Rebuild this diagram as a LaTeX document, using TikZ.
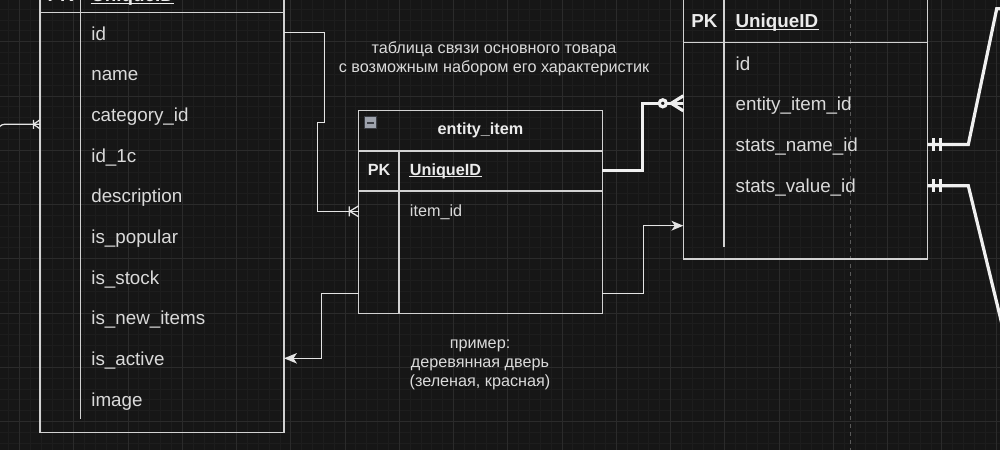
\documentclass[tikz,border=0pt]{standalone}
\usepackage{fontspec}
\setmainfont{Liberation Sans}
\usetikzlibrary{calc}

\definecolor{bgcol}{HTML}{161616}
\definecolor{gridminor}{HTML}{1D1D1D}
\definecolor{gridmajor}{HTML}{2B2B2B}
\definecolor{framecol}{HTML}{D2D2D2}
\definecolor{txtcol}{HTML}{DADADA}
\definecolor{keycol}{HTML}{EBEBEB}
\definecolor{linkcol}{HTML}{E4E4E4}
\definecolor{thickcol}{HTML}{F0F0F0}
\definecolor{pagebreak}{HTML}{5A5A5A}
\definecolor{iconfill}{HTML}{9EA3AD}
\definecolor{iconline}{HTML}{3A3D44}

\tikzset{every picture/.style={line width=0.95pt},
  minorgrid/.style={draw=gridminor, line width=0.75pt},
  majorgrid/.style={draw=gridmajor, line width=0.75pt},
  tblframe/.style={draw=framecol, anchor=north west, inner sep=0pt, outer sep=0pt},
  tblline/.style={draw=framecol},
  rowtxt/.style={anchor=base west, inner sep=0pt, text=txtcol, font=\fontsize{14.1}{16}\selectfont},
  rowkey/.style={rowtxt, text=keycol, font=\bfseries\fontsize{14.1}{16}\selectfont},
  enttxt/.style={anchor=base west, inner sep=0pt, text=txtcol, font=\fontsize{12.15}{14}\selectfont},
  entkey/.style={enttxt, text=keycol, font=\bfseries\fontsize{12.15}{14}\selectfont},
  keyline/.style={draw=keycol, line width=0.9pt},
  notetxt/.style={align=center, inner sep=0pt, text=txtcol, font=\fontsize{12.15}{14.2}\selectfont},
  thinlink/.style={draw=linkcol},
  thicklink/.style={draw=thickcol, line width=2.4pt},
}

\begin{document}
\begin{tikzpicture}[x=0.75pt,y=0.75pt,yscale=-1,xscale=1]
\useasboundingbox (0,0) rectangle (1000,450);
\clip (0,0) rectangle (1000,450);

%Background and grid
\fill[bgcol] (0,0) rectangle (1000,450);
\foreach \k in {-1,...,93} \draw[minorgrid] ({8.75+10.85*\k},0) -- ({8.75+10.85*\k},450);
\foreach \k in {-1,...,42} \draw[minorgrid] (0,{9.25+10.85*\k}) -- (1000,{9.25+10.85*\k});
\foreach \k in {0,...,18} \draw[majorgrid] ({19.6+54.25*\k},0) -- ({19.6+54.25*\k},450);
\foreach \k in {-1,...,8} \draw[majorgrid] (0,{41.8+54.25*\k}) -- (1000,{41.8+54.25*\k});
%Straight Lines [page break]
\draw[pagebreak, dash pattern=on 3pt off 3pt, line width=0.75pt] (850,0) -- (850,450);

%Shape: Table [item]
\node[tblframe, minimum width=183pt, minimum height=384.2pt] (itemtbl) at (40,-80) {};
\draw[tblline] (itemtbl.west |- 0,12.7) -- (itemtbl.east |- 0,12.7);
\draw[tblline] (80.7,-80) -- (80.7,419);
% Text Node
\node[rowkey] (itempk) at (47,1.5) {PK};
\node[rowkey] (itemuid) at (90.7,1.5) {UniqueID};
\draw[keyline] ($(itemuid.base west)+(0,2)$) -- ($(itemuid.base east)+(0,2)$);
\node[rowtxt] (pid) at (90.7,40) {id};
\node[rowtxt] (pname) at (90.7,80.7) {name};
\node[rowtxt] (pcat) at (90.7,121.3) {category\_id};
\node[rowtxt] (p1c) at (90.7,162) {id\_1c};
\node[rowtxt] (pdesc) at (90.7,202.7) {description};
\node[rowtxt] (ppop) at (90.7,243.4) {is\_popular};
\node[rowtxt] (pstock) at (90.7,284) {is\_stock};
\node[rowtxt] (pnew) at (90.7,324.7) {is\_new\_items};
\node[rowtxt] (pactive) at (90.7,365.4) {is\_active};
\node[rowtxt] (pimage) at (90.7,406) {image};

%Shape: Table [stats]
\node[tblframe, minimum width=183pt, minimum height=239.25pt] (statstbl) at (683.3,-60) {};
\draw[tblline] (statstbl.west |- 0,42.7) -- (statstbl.east |- 0,42.7);
\draw[tblline] (724,-60) -- (724,246.7);
% Text Node
\node[rowkey] (statspk) at (690.7,27.4) {PK};
\node[rowkey] (statsuid) at (735,27.4) {UniqueID};
\draw[keyline] ($(statsuid.base west)+(0,2)$) -- ($(statsuid.base east)+(0,2)$);
\node[rowtxt] (sid) at (735,70) {id};
\node[rowtxt] (seid) at (735,110.7) {entity\_item\_id};
\node[rowtxt] (ssn) at (735,151.4) {stats\_name\_id};
\node[rowtxt] (ssv) at (735,192.1) {stats\_value\_id};

%Shape: Table [entity_item]
\node[tblframe, minimum width=182.7pt, minimum height=152.25pt] (entitytbl) at (358.7,110.7) {};
\draw[tblline] (entitytbl.west |- 0,151) -- (entitytbl.east |- 0,151);
\draw[tblline] (entitytbl.west |- 0,191) -- (entitytbl.east |- 0,191);
\draw[tblline] (399,151) -- (399,313.7);
%Shape: Collapse icon
\draw[iconline, fill=iconfill, line width=0.6pt] (364.3,116.7) rectangle (376.7,128.3);
\draw[iconline, line width=1.5pt] (366.8,122.5) -- (374.2,122.5);
% Text Node
\node[entkey, anchor=base] (enttitle) at (480.5,134.2) {entity\_item};
\node[entkey] (entpk) at (367.3,175) {PK};
\node[entkey] (entuid) at (409.3,175) {UniqueID};
\draw[keyline] ($(entuid.base west)+(0,1.8)$) -- ($(entuid.base east)+(0,1.8)$);
\node[enttxt] (eiid) at (409.3,216) {item\_id};

% Text Node
\node[notetxt] (linknote) at (494,58.8) {таблица связи основного товара\\с возможным набором его характеристик};
% Text Node
\node[notetxt] (examplenote) at (480,364.6) {пример:\\деревянная дверь\\(зеленая, красная)};

%Straight Lines [item id -> entity item_id]
\draw[thinlink] (itemtbl.east |- 0,32.7) -- (324.3,32.7) -- (324.3,122.7) -- (317.3,122.7) -- (317.3,211.3) -- (entitytbl.west |- 0,211.3);
\draw[thinlink, shift={(358.7,211.3)}] (-9.5,-5) -- (-9.5,5) (-9,0) -- (0,-5.5) (-9,0) -- (0,5.5);
%Straight Lines [into category_id]
\draw[thinlink, rounded corners=5] (-2,170) |- (itemtbl.west |- 0,124.3);
\draw[thinlink, shift={(40,124.3)}] (-6.5,-4.5) -- (-6.5,4.5) (-6.5,0) -- (0,-4.5) (-6.5,0) -- (0,4.5);
%Straight Lines [entity -> is_active]
\draw[thinlink, shorten >=6pt] (entitytbl.west |- 0,293.3) -- (321.3,293.3) -- (321.3,358.3) -- (itemtbl.east |- 0,358.3);
\fill[linkcol, shift={(284,358.3)}, rotate=180] (0,0) -- (-13,-5.3) -- (-9.5,0) -- (-13,5.3) -- cycle;
%Straight Lines [entity -> stats]
\draw[thinlink, shorten >=6pt] (entitytbl.east |- 0,293.3) -- (643.3,293.3) -- (643.3,225.7) -- (statstbl.west |- 0,225.7);
\fill[linkcol, shift={(683.3,225.7)}] (0,0) -- (-12,-5) -- (-8.5,0) -- (-12,5) -- cycle;
%Straight Lines [UniqueID -> entity_item_id]
\draw[thicklink] (entitytbl.east |- 0,170.7) -- (642.7,170.7) -- (642.7,103.3) -- (statstbl.west |- 0,103.3);
\draw[thicklink, shift={(683.3,103.3)}] (-12,0) -- (0,-7.5) (-12,0) -- (0,7.5);
\draw[thicklink, fill=bgcol, shift={(683.3,103.3)}] (-20.5,0) circle[radius=3.5];
%Straight Lines [stats_name_id, stats_value_id]
\draw[thicklink] (statstbl.east |- 0,144.5) -- (968.3,144.5) -- (996.7,8.8) -- (1015,8.8);
\draw[thicklink, shift={(927.3,144.5)}] (6,-6.5) -- (6,6.5) (13.4,-6.5) -- (13.4,6.5);
\draw[thicklink] (statstbl.east |- 0,185.8) -- (968.3,185.8) -- (1005.8,340);
\draw[thicklink, shift={(927.3,185.8)}] (6,-6.5) -- (6,6.5) (13.4,-6.5) -- (13.4,6.5);

\end{tikzpicture}
\end{document}
